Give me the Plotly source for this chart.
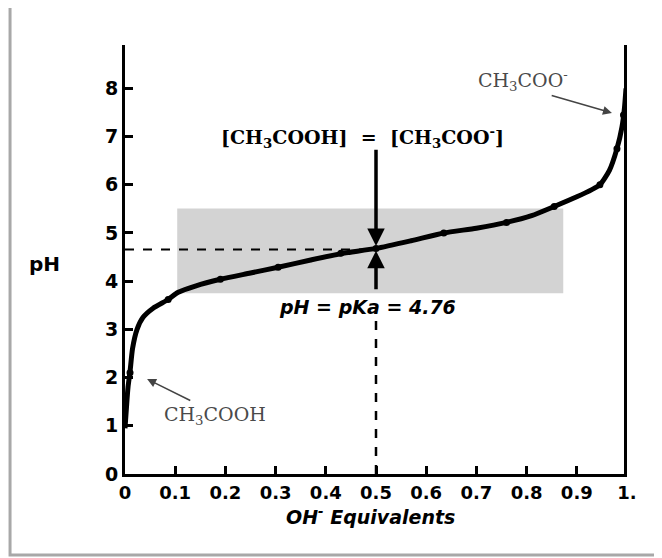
import plotly.graph_objects as go

# curve
curve_x = [0.0, 0.003, 0.006, 0.01, 0.015, 0.024, 0.036, 0.056, 0.086, 0.106, 0.14,
           0.19, 0.25, 0.305, 0.37, 0.43, 0.5, 0.57, 0.635, 0.7, 0.76, 0.81, 0.855,
           0.9, 0.93, 0.946, 0.965, 0.98, 0.99, 0.995, 0.998]
curve_ph = [0.95, 1.4, 1.8, 2.12, 2.6, 3.0, 3.25, 3.44, 3.62, 3.77, 3.9,
            4.04, 4.17, 4.29, 4.44, 4.57, 4.68, 4.84, 5.0, 5.1, 5.22, 5.36, 5.55,
            5.75, 5.9, 6.0, 6.3, 6.75, 7.2, 7.6, 8.0]
# measured points
pts_x = [0.01, 0.086, 0.19, 0.305, 0.43, 0.5, 0.635, 0.76, 0.855, 0.946, 0.98, 0.993]
pts_ph = [2.1, 3.62, 4.04, 4.29, 4.58, 4.68, 5.0, 5.22, 5.55, 6.0, 6.75, 7.45]

x_ticks = [0, 0.1, 0.2, 0.3, 0.4, 0.5, 0.6, 0.7, 0.8, 0.9, 1.0]
x_labels = ["0", "0.1", "0.2", "0.3", "0.4", "0.5", "0.6", "0.7", "0.8", "0.9", "1."]
y_ticks = [0, 1, 2, 3, 4, 5, 6, 7, 8]
y_labels = ["0", "1", "2", "3", "4", "5", "6", "7", "8"]

pka_line = 4.66
half_eq = 0.5
box_x = [0.104, 0.873]
box_y = [3.75, 5.51]

fig = go.Figure()
fig.add_trace(go.Scatter(x=curve_x, y=curve_ph, mode="lines",
                         line=dict(color="black", width=5, shape="spline", smoothing=0.6),
                         hoverinfo="skip", showlegend=False))
fig.add_trace(go.Scatter(x=pts_x, y=pts_ph, mode="markers",
                         marker=dict(color="black", size=7),
                         showlegend=False))

shapes = [
    dict(type="rect", xref="x", yref="y", x0=box_x[0], x1=box_x[1], y0=box_y[0], y1=box_y[1],
         fillcolor="#d3d3d3", line=dict(width=0), layer="below"),
    dict(type="line", xref="x", yref="y", x0=0, x1=half_eq, y0=pka_line, y1=pka_line,
         line=dict(color="black", width=2, dash="dash")),
    dict(type="line", xref="x", yref="y", x0=half_eq, x1=half_eq, y0=0, y1=3.2,
         line=dict(color="black", width=2.5, dash="dash")),
    dict(type="line", xref="x", yref="y", x0=1.0, x1=1.0, y0=0, y1=8.9,
         line=dict(color="black", width=6)),
    dict(type="rect", xref="paper", yref="paper", x0=-0.229, x1=1.058, y0=-0.189, y1=1.096,
         line=dict(color="#a8a8a8", width=3), fillcolor="rgba(0,0,0,0)"),
]

serif = "DejaVu Serif"
sans = "DejaVu Sans"
ann = [
    dict(x=0.474, y=6.99, text="[CH<sub>3</sub>COOH]  =  [CH<sub>3</sub>COO<sup>-</sup>]",
         showarrow=False, font=dict(family=serif, size=19, color="black", weight="bold")),
    dict(x=0.484, y=3.46, text="<i>pH = pKa = 4.76</i>",
         showarrow=False, font=dict(family=sans, size=19, color="black", weight="bold")),
    dict(x=0.793, y=8.17, text="CH<sub>3</sub>COO<sup>-</sup>",
         showarrow=False, font=dict(family=serif, size=19, color="#4a4a4a")),
    dict(x=0.179, y=1.22, text="CH<sub>3</sub>COOH",
         showarrow=False, font=dict(family=serif, size=19, color="#4a4a4a")),
    dict(x=0.970, y=7.49, ax=0.847, ay=7.86, xref="x", yref="y", axref="x", ayref="y",
         text="", showarrow=True, arrowhead=2, arrowsize=1.2, arrowwidth=1.5, arrowcolor="#444444"),
    dict(x=0.044, y=1.97, ax=0.133, ay=1.51, xref="x", yref="y", axref="x", ayref="y",
         text="", showarrow=True, arrowhead=2, arrowsize=1.2, arrowwidth=1.5, arrowcolor="#444444"),
    dict(x=half_eq, y=4.73, ax=half_eq, ay=6.76, xref="x", yref="y", axref="x", ayref="y",
         text="", showarrow=True, arrowhead=2, arrowsize=1, arrowwidth=3.5, arrowcolor="black"),
    dict(x=half_eq, y=4.63, ax=half_eq, ay=3.8, xref="x", yref="y", axref="x", ayref="y",
         text="", showarrow=True, arrowhead=2, arrowsize=1, arrowwidth=3.5, arrowcolor="black"),
    dict(x=-0.126, y=0.49, xref="paper", yref="paper", text="pH", showarrow=False,
         xanchor="right", font=dict(family=sans, size=20, color="black", weight="bold")),
    dict(x=0.49, y=-0.066, xref="paper", yref="paper", yanchor="top",
         text="<i>OH<sup>-</sup> Equivalents</i>", showarrow=False,
         font=dict(family=sans, size=19, color="black", weight="bold")),
]

fig.update_layout(
    width=662, height=558,
    margin=dict(l=117, r=43, t=37, b=92),
    paper_bgcolor="white", plot_bgcolor="white",
    shapes=shapes, annotations=ann,
    xaxis=dict(range=[0, 1.0], tickvals=x_ticks, ticktext=["<b>%s</b>" % t for t in x_labels],
               showgrid=False, zeroline=False, showline=True, linecolor="black", linewidth=3,
               ticks="inside", ticklen=8, tickwidth=2.5, tickcolor="black",
               tickfont=dict(family=sans, size=18, color="black")),
    yaxis=dict(range=[0, 8.9], tickvals=y_ticks, ticktext=["<b>%s</b>" % t for t in y_labels],
               showgrid=False, zeroline=False, showline=True, linecolor="black", linewidth=3,
               ticks="inside", ticklen=8, tickwidth=2.5, tickcolor="black",
               tickfont=dict(family=sans, size=19, color="black")),
)

fig.write_html("out.html")
